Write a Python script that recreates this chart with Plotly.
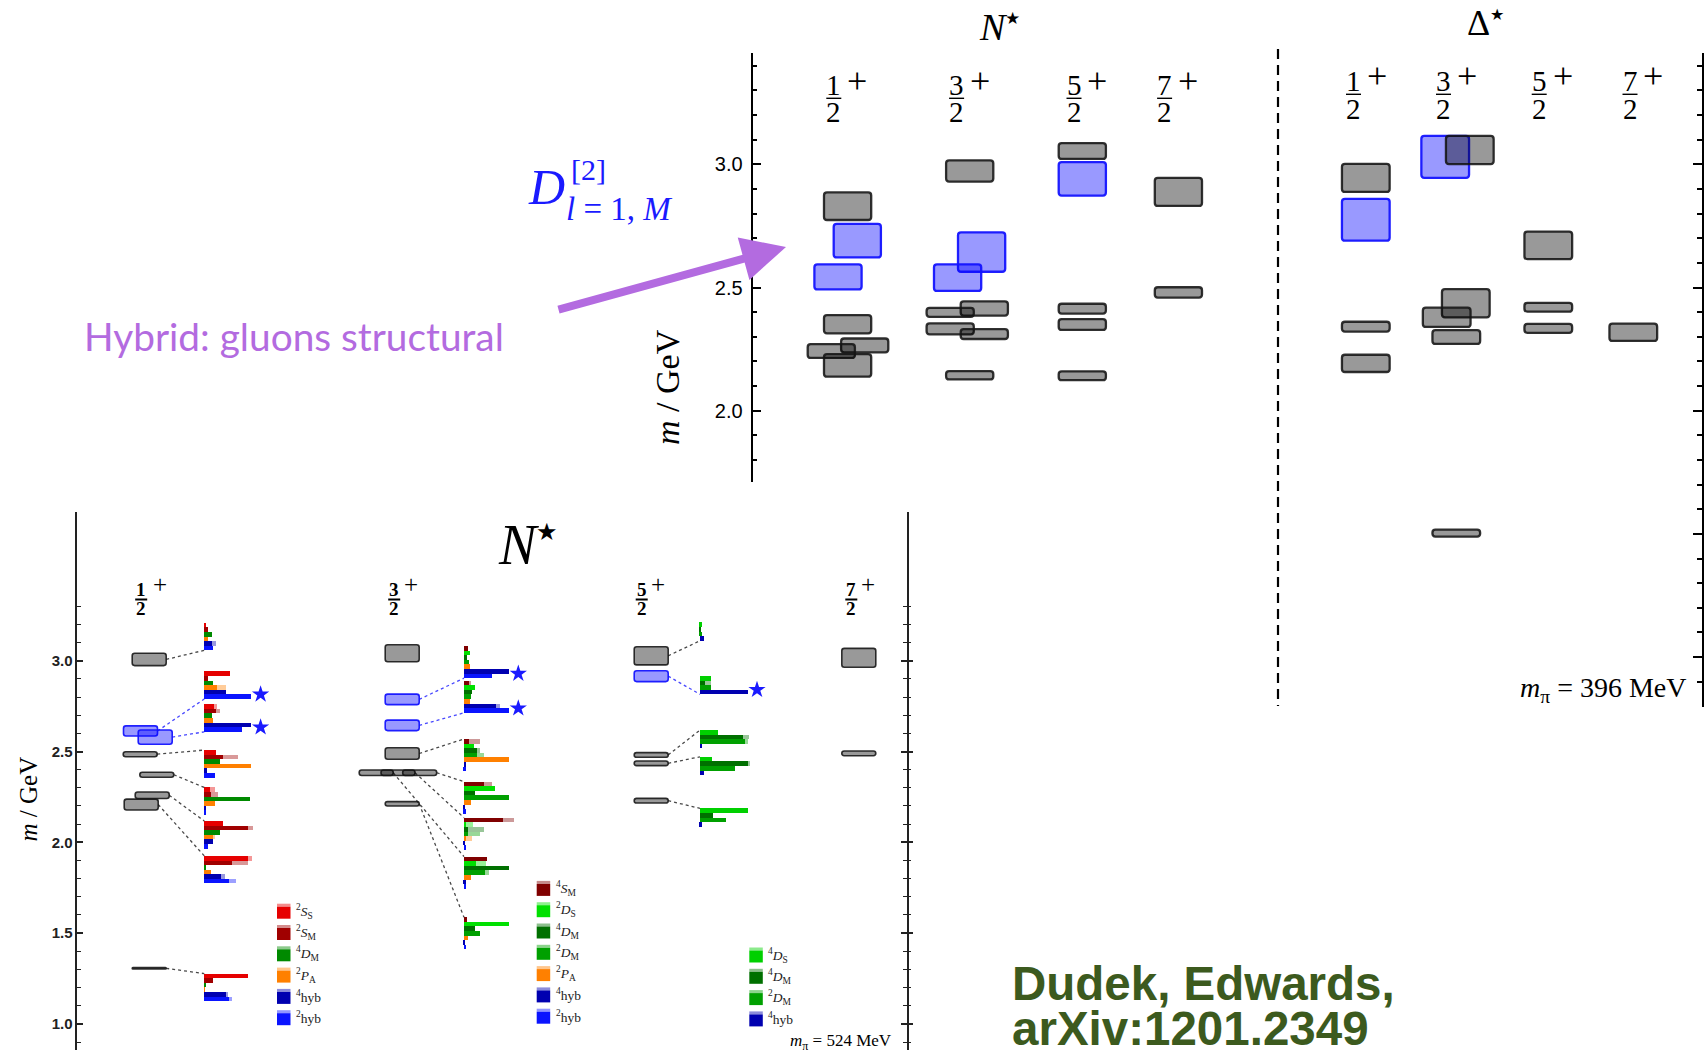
import plotly.graph_objects as go

W, H = 1708, 1050
SERIF = "Liberation Serif, DejaVu Serif, serif"
SANS = "Liberation Sans, Arial, sans-serif"

# ---------------- m_pi = 396 MeV spectra (upper panel) ----------------
SPIN_NUM = ["1", "3", "5", "7"]          # J = n/2, positive parity

N396_COL = [0, 0, 0, 0, 0, 0, 0,
            1, 1, 1, 1, 1, 1, 1, 1,
            2, 2, 2, 2, 2,
            3, 3]
N396_MASS = [2.830, 2.690, 2.543, 2.351, 2.265, 2.242, 2.184,
             2.973, 2.644, 2.540, 2.415, 2.399, 2.332, 2.311, 2.144,
             3.054, 2.941, 2.414, 2.350, 2.142,
             2.888, 2.480]
N396_ERR = [0.056, 0.068, 0.051, 0.037, 0.028, 0.028, 0.046,
            0.043, 0.080, 0.054, 0.029, 0.018, 0.022, 0.020, 0.017,
            0.032, 0.068, 0.020, 0.022, 0.018,
            0.057, 0.021]
N396_HYB = [0, 1, 1, 0, 0, 0, 0,
            0, 1, 1, 0, 0, 0, 0, 0,
            0, 1, 0, 0, 0,
            0, 0]

D396_COL = [0, 0, 0, 0,
            1, 1, 1, 1, 1, 1,
            2, 2, 2,
            3]
D396_MASS = [2.945, 2.775, 2.341, 2.192,
             3.030, 3.058, 2.436, 2.379, 2.299, 1.503,
             2.671, 2.420, 2.334,
             2.318]
D396_ERR = [0.057, 0.085, 0.020, 0.035,
            0.085, 0.057, 0.057, 0.039, 0.028, 0.014,
            0.056, 0.018, 0.018,
            0.035]
D396_HYB = [0, 1, 0, 0,
            1, 0, 0, 0, 0, 0,
            0, 0, 0,
            0]

# ---------------- m_pi = 524 MeV spectrum (lower panel) ----------------
N524_COL = [0] * 8 + [1] * 8 + [2] * 5 + [3] * 2
N524_MASS = [3.007, 2.613, 2.579, 2.485, 2.372, 2.259, 2.208, 1.306,
             3.041, 2.787, 2.644, 2.489, 2.383, 2.383, 2.383, 2.212,
             3.027, 2.915, 2.481, 2.435, 2.229,
             3.016, 2.490]
N524_ERR = [0.034, 0.028, 0.039, 0.014, 0.014, 0.018, 0.030, 0.004,
            0.047, 0.029, 0.029, 0.032, 0.015, 0.015, 0.015, 0.012,
            0.050, 0.030, 0.013, 0.013, 0.013,
            0.052, 0.013]
N524_HYB = [0, 1, 1, 0, 0, 0, 0, 0,
            0, 1, 1, 0, 0, 0, 0, 0,
            0, 1, 0, 0, 0,
            0, 0]
# overlap histogram (within the same J column) belonging to each level, -1 = none
N524_HIST = [0, 1, 2, 3, 4, 5, 6, 7,
             -1, 0, 1, 2, 5, 4, 3, 6,
             0, 1, 2, 3, 4,
             -1, -1]

# operator overlaps, J = 1/2
OPS_1 = ["<sup>2</sup><i>S</i><sub>S</sub>", "<sup>2</sup><i>S</i><sub>M</sub>",
         "<sup>4</sup><i>D</i><sub>M</sub>", "<sup>2</sup><i>P</i><sub>A</sub>",
         "<sup>4</sup>hyb", "<sup>2</sup>hyb"]
HIST1_TOP = [3.209, 2.941, 2.760, 2.508, 2.302, 2.117, 1.925, 1.277]
HIST1_Z = [[0.05, 0.09, 0.16, 0.08, 0.17, 0.19],
           [0.55, 0.08, 0.18, 0.28, 0.47, 1.00],
           [0.22, 0.26, 0.17, 0.19, 0.99, 0.81],
           [0.25, 0.40, 0.34, 1.00, 0.06, 0.23],
           [0.12, 0.14, 0.97, 0.23, 0.04, 0.05],
           [0.40, 0.92, 0.34, 0.18, 0.20, 0.08],
           [0.92, 0.60, 0.04, 0.15, 0.35, 0.53],
           [0.92, 0.20, 0.03, 0.02, 0.46, 0.52]]
HIST1_ERR = [[0, 0, 0, 0, 0.09, 0],
             [0, 0, 0, 0.18, 0, 0],
             [0.06, 0.08, 0, 0, 0, 0],
             [0, 0.32, 0, 0, 0, 0],
             [0.12, 0.16, 0, 0, 0, 0],
             [0, 0.12, 0, 0.05, 0, 0],
             [0.10, 0.33, 0, 0, 0.10, 0.15],
             [0, 0, 0, 0, 0.05, 0.07]]
HIST1_STAR = [0, 1, 1, 0, 0, 0, 0, 0]

# operator overlaps, J = 3/2
OPS_3 = ["<sup>4</sup><i>S</i><sub>M</sub>", "<sup>2</sup><i>D</i><sub>S</sub>",
         "<sup>4</sup><i>D</i><sub>M</sub>", "<sup>2</sup><i>D</i><sub>M</sub>",
         "<sup>2</sup><i>P</i><sub>A</sub>", "<sup>4</sup>hyb", "<sup>2</sup>hyb"]
HIST3_TOP = [3.081, 2.890, 2.569, 2.334, 2.135, 1.921, 1.587]
HIST3_Z = [[0.10, 0.13, 0.07, 0.12, 0.14, 1.00, 0.63],
           [0.12, 0.25, 0.18, 0.15, 0.13, 0.72, 1.00],
           [0.12, 0.22, 0.30, 0.30, 1.00, 0.05, 0.04],
           [0.45, 0.69, 0.25, 1.00, 0.17, 0.03, 0.04],
           [0.87, 0.06, 0.10, 0.10, 0.06, 0.03, 0.05],
           [0.51, 0.28, 1.00, 0.48, 0.17, 0.04, 0.06],
           [0.07, 1.00, 0.24, 0.37, 0.10, 0.03, 0.05]]
HIST3_ERR = [[0, 0, 0, 0, 0, 0, 0],
             [0.05, 0, 0, 0, 0, 0.08, 0],
             [0.25, 0, 0.05, 0.15, 0, 0, 0],
             [0.17, 0, 0, 0, 0, 0, 0],
             [0.23, 0.14, 0.35, 0.25, 0.12, 0, 0],
             [0, 0.22, 0, 0.08, 0, 0, 0],
             [0, 0, 0, 0, 0, 0, 0]]
HIST3_STAR = [1, 1, 0, 0, 0, 0, 0]

# operator overlaps, J = 5/2
OPS_5 = ["<sup>4</sup><i>D</i><sub>S</sub>", "<sup>4</sup><i>D</i><sub>M</sub>",
         "<sup>2</sup><i>D</i><sub>M</sub>", "<sup>4</sup>hyb"]
HIST5_TOP = [3.211, 2.916, 2.618, 2.471, 2.187]
HIST5_Z = [[0.04, 0.02, 0.04, 0.09],
           [0.24, 0.12, 0.24, 1.00],
           [0.38, 0.90, 0.95, 0.05],
           [0.26, 1.00, 0.74, 0.08],
           [1.00, 0.28, 0.55, 0.04]]
HIST5_ERR = [[0, 0, 0, 0],
             [0, 0.12, 0, 0],
             [0, 0.12, 0.05, 0],
             [0, 0.05, 0, 0],
             [0, 0, 0, 0]]
HIST5_STAR = [0, 1, 0, 0, 0]

MAJOR_TICKS = [1.0, 1.5, 2.0, 2.5, 3.0]
MAJOR_TEXT = ["1.0", "1.5", "2.0", "2.5", "3.0"]
TOP_MINOR = [1.8, 1.9, 2.1, 2.2, 2.3, 2.4, 2.6, 2.7, 2.8, 2.9, 3.1, 3.2, 3.3, 3.4]
DEL_MINOR = [0.8, 0.9, 1.1, 1.2, 1.3, 1.4, 1.6, 1.7, 1.8, 1.9] + TOP_MINOR[2:]
LOW_MINOR = [0.9, 1.1, 1.2, 1.3, 1.4, 1.6, 1.7, 1.8, 1.9] + TOP_MINOR[2:-1]

# ---------------- styling / geometry ----------------
GRAY_FILL = "rgba(0,0,0,0.40)"
BLUE_FILL = "rgba(0,0,255,0.40)"
GRAY_EDGE = "rgba(20,20,20,0.88)"
BLUE_EDGE = "rgba(20,20,255,0.95)"

N_X0, N_X1 = 752.7, 1278.0     # upper N* frame (px)
D_X0, D_X1 = 1278.0, 1701.7    # upper Delta* frame (px)
B_X0, B_X1 = 77.3, 906.7       # lower frame (px)
TOP_PPG, LOW_PPG = 246.4, 181.6  # px per GeV

N_COL_X = [94.9, 217.0, 329.6, 425.7]
N_HALF_W = 23.6
N396_SHIFT = [0, 9.7, -9.6, 0, 17.1, -16.3, 0,
              0, 11.9, -12.1, 14.6, -19.5, -19.5, 14.6, 0,
              0, 0, 0, 0, 0, 0, 0]
D_COL_X = [87.8, 178.3, 270.3, 355.3]
D_HALF_W = 23.85
D396_SHIFT = [0, 0, 0, 0, -11.1, 13.5, 9.5, -9.6, 0, 0, 0, 0, 0, 0]

B_COL_X = [71.9, 324.9, 573.9, 781.5]
B_HALF_W = 17.0
N524_SHIFT = [0, -8.7, 6.0, -9.0, 7.6, 3.0, -8.0, 0,
              0, 0, 0, 0, -26.0, -4.2, 17.5, 0,
              0, 0, 0, 0, 0, 0, 0]
HIST_X0 = [127.0, 386.7, 622.7]
HIST_LEN = [47.3, 45.3, 48.0]
ROW_H = 0.0253

COLORS_1 = ["#e60000", "#a00000", "#008a00", "#ff8000", "#0000b0", "#0a14ff"]
COLORS_3 = ["#800000", "#00e000", "#007000", "#00a000", "#ff8000", "#0000b0", "#0a14ff"]
COLORS_5 = ["#00d000", "#007000", "#00a000", "#0000b0"]
HIST1_TO_BOTTOM = [1, 1, 1, 0, 0, 0, 0, 0]
HIST3_TO_BOTTOM = [1, 1, 0, 0, 0, 0, 0]
HIST5_TO_BOTTOM = [1, 1, 0, 0, 0]

STAR = '<sup><span style="font-size:{}px">★</span></sup>'


def yrange(top_px, bot_px, ref_px, ppg):
    return [3.0 - (bot_px - ref_px) / ppg, 3.0 + (ref_px - top_px) / ppg]


def level_path(xc, hw, m, e, r_px, ppg):
    x0, x1, y0, y1 = xc - hw, xc + hw, m - e, m + e
    rx, ry = r_px, r_px / ppg
    if ry > e:
        rx, ry = rx * e / ry, e
    return (f"M{x0 + rx},{y0} L{x1 - rx},{y0} Q{x1},{y0} {x1},{y0 + ry} "
            f"L{x1},{y1 - ry} Q{x1},{y1} {x1 - rx},{y1} L{x0 + rx},{y1} "
            f"Q{x0},{y1} {x0},{y1 - ry} L{x0},{y0 + ry} Q{x0},{y0} {x0 + rx},{y0} Z")


shapes = []
annotations = []


def add_levels(cols, masses, errs, hyb, shifts, col_x, hw, xref, yref, ppg, lw, r_px):
    for c, m, e, h, s in zip(cols, masses, errs, hyb, shifts):
        shapes.append(dict(
            type="path", xref=xref, yref=yref,
            path=level_path(col_x[c] + s, hw, m, e, r_px, ppg),
            fillcolor=BLUE_FILL if h else GRAY_FILL,
            line=dict(color=BLUE_EDGE if h else GRAY_EDGE, width=lw)))


def txt(x, y, s, size, family=SERIF, color="black", xanchor="center",
        yanchor="middle", angle=0, weight="normal"):
    annotations.append(dict(
        x=x / W, y=1 - y / H, xref="paper", yref="paper", text=s, showarrow=False,
        font=dict(family=family, size=size, color=color, weight=weight),
        xanchor=xanchor, yanchor=yanchor, textangle=angle))


def fraction(cx, plus_x, y_num, y_bar, y_den, plus_y, num, size, plus_size, half_bar,
             lw, weight="normal"):
    txt(cx, y_num, num, size, weight=weight)
    txt(cx, y_den, "2", size, weight=weight)
    txt(plus_x, plus_y, "+", plus_size)
    shapes.append(dict(type="line", xref="paper", yref="paper",
                       x0=(cx - half_bar) / W, x1=(cx + half_bar) / W,
                       y0=1 - y_bar / H, y1=1 - y_bar / H,
                       line=dict(color="black", width=lw)))


fig = go.Figure()

# ---------- upper panel levels ----------
add_levels(N396_COL, N396_MASS, N396_ERR, N396_HYB, N396_SHIFT, N_COL_X, N_HALF_W,
           "x", "y", TOP_PPG, 2.3, 3.0)
add_levels(D396_COL, D396_MASS, D396_ERR, D396_HYB, D396_SHIFT, D_COL_X, D_HALF_W,
           "x2", "y2", TOP_PPG, 2.3, 3.0)

# dashed separator between N* and Delta*
shapes.append(dict(type="line", xref="paper", yref="paper",
                   x0=D_X0 / W, x1=D_X0 / W, y0=1 - 49 / H, y1=1 - 706 / H,
                   line=dict(color="black", width=2.2, dash="10px,6px")))

# ---------- lower panel levels ----------
add_levels(N524_COL, N524_MASS, N524_ERR, N524_HYB, N524_SHIFT, B_COL_X, B_HALF_W,
           "x3", "y3", LOW_PPG, 1.6, 2.5)

# ---------- overlap histograms ----------
hist_sets = [
    (OPS_1, COLORS_1, HIST1_TOP, HIST1_Z, HIST1_ERR, HIST1_STAR, HIST1_TO_BOTTOM),
    (OPS_3, COLORS_3, HIST3_TOP, HIST3_Z, HIST3_ERR, HIST3_STAR, HIST3_TO_BOTTOM),
    (OPS_5, COLORS_5, HIST5_TOP, HIST5_Z, HIST5_ERR, HIST5_STAR, HIST5_TO_BOTTOM),
]
for j, (ops, cols, tops, Z, ZE, star, to_bottom) in enumerate(hist_sets):
    x0, L = HIST_X0[j], HIST_LEN[j]
    n = len(ops)
    for k in range(n):
        ys = [t - (k + 0.5) * ROW_H for t in tops]
        fig.add_trace(go.Bar(
            orientation="h", y=ys, x=[z[k] * L for z in Z], base=[x0] * len(tops),
            width=ROW_H, marker=dict(color=cols[k], line=dict(width=0)),
            xaxis="x3", yaxis="y3", hoverinfo="skip"))
        fig.add_trace(go.Bar(
            orientation="h", y=ys, x=[e[k] * L for e in ZE],
            base=[x0 + z[k] * L for z in Z], width=ROW_H,
            marker=dict(color=cols[k], line=dict(width=0)), opacity=0.4,
            xaxis="x3", yaxis="y3", hoverinfo="skip"))
    # stars mark hybrid-dominated states
    sx, sy = [], []
    for i, t in enumerate(tops):
        if star[i]:
            sx.append(x0 + L + 9)
            sy.append(t - (n - 1) * ROW_H if n % 2 == 0 or n == 7 else t - (n - 0.5) * ROW_H)
    fig.add_trace(go.Scatter(x=sx, y=sy, mode="markers", xaxis="x3", yaxis="y3",
                             marker=dict(symbol="star", size=13, color="#1a1aff",
                                         line=dict(width=0)), hoverinfo="skip"))

# dotted connectors from each level to its overlap histogram
for c, m, e, h, s, hi in zip(N524_COL, N524_MASS, N524_ERR, N524_HYB, N524_SHIFT, N524_HIST):
    if hi < 0:
        continue
    ops, cols, tops, Z, ZE, star, to_bottom = hist_sets[c]
    top = tops[hi]
    end_y = top - len(ops) * ROW_H if to_bottom[hi] else top
    fig.add_trace(go.Scatter(
        x=[B_COL_X[c] + s + B_HALF_W, HIST_X0[c]], y=[m, end_y], mode="lines",
        xaxis="x3", yaxis="y3", hoverinfo="skip",
        line=dict(color="rgba(40,40,255,0.85)" if h else "rgba(40,40,40,0.85)",
                  width=1.3, dash="dot")))

# empty traces keep the right-hand lower axes alive
for ya in ("y4", "y5"):
    fig.add_trace(go.Scatter(x=[None], y=[None], xaxis="x3", yaxis=ya, hoverinfo="skip"))

# ---------- legends of the lower panel ----------
LEG_X = [277.0, 536.7, 749.3]
LEG_Y0 = [911.2, 888.4, 955.0]
LEG_DY = 21.3
for j, (ops, cols, *_rest) in enumerate(hist_sets):
    for k, (lab, col) in enumerate(zip(ops, cols)):
        yc = LEG_Y0[j] + k * LEG_DY
        lx = LEG_X[j]
        shapes.append(dict(type="rect", xref="paper", yref="paper",
                           x0=lx / W, x1=(lx + 13.5) / W,
                           y0=1 - (yc + 7.5) / H, y1=1 - (yc - 4.5) / H,
                           fillcolor=col, line=dict(width=0)))
        shapes.append(dict(type="rect", xref="paper", yref="paper",
                           x0=lx / W, x1=(lx + 13.5) / W,
                           y0=1 - (yc - 4.5) / H, y1=1 - (yc - 7.5) / H,
                           fillcolor=col, opacity=0.45, line=dict(width=0)))
        txt(lx + 17, yc, lab, 13.5, xanchor="left", color="#222")

# ---------- titles and labels ----------
txt(999, 27, "<i>N</i>" + STAR.format(17), 38)
txt(1485, 23, "Δ" + STAR.format(16), 36)

N_FRAC_X = [833.8, 956.6, 1074.0, 1164.6]
N_PLUS_X = [857.4, 980.4, 1097.4, 1188.3]
D_FRAC_X = [1353.5, 1443.5, 1539.2, 1630.0]
D_PLUS_X = [1377.0, 1467.0, 1562.7, 1653.3]
B_FRAC_X = [141.2, 394.2, 641.7, 851.3]
B_PLUS_X = [159.7, 410.8, 658.3, 868.3]
for i, num in enumerate(SPIN_NUM):
    fraction(N_FRAC_X[i], N_PLUS_X[i], 85.0, 98.3, 112.5, 81.5, num, 29, 36, 7.5, 1.4)
    fraction(D_FRAC_X[i], D_PLUS_X[i], 81.0, 94.3, 108.7, 76.5, num, 29, 36, 7.5, 1.4)
    fraction(B_FRAC_X[i], B_PLUS_X[i], 589, 599.5, 608.8, 584.0, num, 19, 25, 6.0, 2.0,
             weight="bold")

txt(667, 387, "<i>m</i> / GeV", 34, angle=-90)
txt(27.5, 799, "<i>m</i> / GeV", 25, angle=-90)
txt(1688, 689, "<i>m</i><sub>π</sub> = 396 MeV", 28, xanchor="right")
txt(894, 1042, "<i>m</i><sub>π</sub> = 524 MeV", 17, xanchor="right")
txt(528, 545, "<i>N</i>" + STAR.format(24), 56)

# hybrid operator label and annotation arrow
BLUE_TXT = "#1a1aff"
txt(546, 187, "<i>D</i>", 50, color=BLUE_TXT)
txt(588, 169, "[2]", 30, color=BLUE_TXT)
txt(564, 209, "<i>l</i> = 1, <i>M</i>", 33, color=BLUE_TXT, xanchor="left")
txt(82, 336, "Hybrid: gluons structural", 38.8, family="Lato, sans-serif",
    color="#b36be0", xanchor="left")
annotations.append(dict(x=786 / W, y=1 - 247 / H, xref="paper", yref="paper",
                        ax=557 - 786, ay=310 - 247, text="", showarrow=True,
                        arrowhead=2, arrowsize=1.1, arrowwidth=8, arrowcolor="#b36be0",
                        standoff=0, startstandoff=0))
txt(1010, 983, "Dudek, Edwards,", 47.5, family=SANS, color="#3c5a1e",
    xanchor="left", weight="bold")
txt(1010, 1028, "arXiv:1201.2349", 47.5, family=SANS, color="#3c5a1e",
    xanchor="left", weight="bold")

axis_common = dict(showgrid=False, zeroline=False, fixedrange=True)
low_range = yrange(512, 1050, 660.7, LOW_PPG)

fig.update_layout(
    width=W, height=H, margin=dict(l=0, r=0, t=0, b=0, pad=0),
    paper_bgcolor="white", plot_bgcolor="rgba(0,0,0,0)",
    showlegend=False, barmode="overlay", bargap=0,
    xaxis=dict(domain=[N_X0 / W, N_X1 / W], range=[0, N_X1 - N_X0], visible=False,
               anchor="y", **axis_common),
    yaxis=dict(domain=[1 - 482 / H, 1 - 52.7 / H], range=yrange(52.7, 482, 164.3, TOP_PPG),
               anchor="x", showline=True, linecolor="black", linewidth=2.2,
               ticks="inside", tickvals=MAJOR_TICKS[2:], ticktext=MAJOR_TEXT[2:],
               ticklen=8, tickwidth=2, tickcolor="black",
               minor=dict(tickmode="array", tickvals=TOP_MINOR, ticks="inside",
                          ticklen=4.5, tickwidth=1.8, tickcolor="black"),
               tickfont=dict(family=SANS, size=20, color="black"),
               ticklabelstandoff=4, **axis_common),
    xaxis2=dict(domain=[D_X0 / W, D_X1 / W], range=[0, D_X1 - D_X0], visible=False,
                anchor="y2", **axis_common),
    yaxis2=dict(domain=[1 - 707 / H, 1 - 52.7 / H], range=yrange(52.7, 707, 164.3, TOP_PPG),
                anchor="x2", side="right", showline=True, linecolor="black", linewidth=2.4,
                ticks="inside", tickvals=MAJOR_TICKS, ticklen=9, tickwidth=2,
                tickcolor="black", showticklabels=False,
                minor=dict(tickmode="array", tickvals=DEL_MINOR, ticks="inside",
                           ticklen=5, tickwidth=2, tickcolor="black"),
                **axis_common),
    xaxis3=dict(domain=[B_X0 / W, B_X1 / W], range=[0, B_X1 - B_X0], visible=False,
                anchor="y3", **axis_common),
    yaxis3=dict(domain=[0, 1 - 512 / H], range=low_range, anchor="x3",
                showline=True, linecolor="#222", linewidth=1.6,
                ticks="inside", tickvals=MAJOR_TICKS, ticktext=MAJOR_TEXT,
                ticklen=5.5, tickwidth=1.5, tickcolor="#222",
                minor=dict(tickmode="array", tickvals=LOW_MINOR, ticks="inside",
                           ticklen=3.5, tickwidth=1.3, tickcolor="#222"),
                tickfont=dict(family=SANS, size=15, color="#222", weight="bold"),
                ticklabelstandoff=0, **axis_common),
    yaxis4=dict(overlaying="y3", anchor="x3", side="right", range=low_range,
                showline=True, linecolor="#222", linewidth=1.6,
                ticks="inside", tickvals=MAJOR_TICKS, ticklen=5.5, tickwidth=1.5,
                tickcolor="#222", showticklabels=False,
                minor=dict(tickmode="array", tickvals=LOW_MINOR, ticks="inside",
                           ticklen=3.5, tickwidth=1.3, tickcolor="#222"),
                **axis_common),
    yaxis5=dict(overlaying="y3", anchor="x3", side="right", range=low_range,
                showline=False, ticks="outside", tickvals=MAJOR_TICKS, ticklen=5.5,
                tickwidth=1.5, tickcolor="#222", showticklabels=False,
                minor=dict(tickmode="array", tickvals=LOW_MINOR, ticks="outside",
                           ticklen=3.5, tickwidth=1.3, tickcolor="#222"),
                **axis_common),
    shapes=shapes,
    annotations=annotations,
)

fig.write_html("out.html")
